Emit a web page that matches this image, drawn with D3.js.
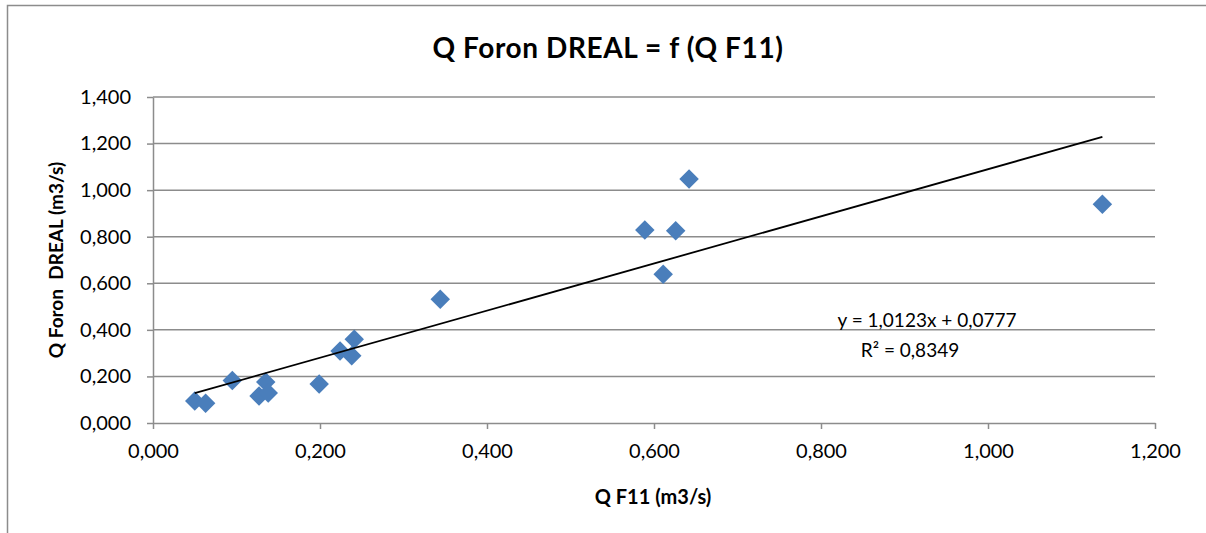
<!DOCTYPE html>
<html>
<head>
<meta charset="utf-8">
<script src="https://cdn.jsdelivr.net/npm/d3@7"></script>
<style>
body { margin: 0; background: #fff; }
svg text { font-family: Lato, "Open Sans", sans-serif; fill: #000; }
.grid line { stroke: #8c8c8c; stroke-width: 1.5; }
.axis path, .axis line { stroke: #8c8c8c; stroke-width: 1.5; }
.axis text { font-size: 20px; font-family: Lato, sans-serif; }
</style>
</head>
<body>
<div class="container"></div>
<script>
var WIDTH = 1206,
	HEIGHT = 533,
	LEFT = 153,
	RIGHT = 1155,
	TOP = 97,
	BOTTOM = 423;

// Q F11 (m3/s)
var qF11 = [0.050, 0.063, 0.095, 0.127, 0.135, 0.138, 0.199, 0.224, 0.238, 0.241, 0.344, 0.589, 0.611, 0.626, 0.642, 1.137];
// Q Foron DREAL (m3/s)
var qForon = [0.095, 0.085, 0.182, 0.116, 0.176, 0.129, 0.167, 0.309, 0.289, 0.360, 0.531, 0.829, 0.639, 0.826, 1.048, 0.939];

var xTicks = [0, 0.2, 0.4, 0.6, 0.8, 1.0, 1.2];
var yTicks = [0, 0.2, 0.4, 0.6, 0.8, 1.0, 1.2, 1.4];

// trendline as given by the spreadsheet
var slope = 1.0123,
	intercept = 0.0777;
var eqLabel = 'y = 1,0123x + 0,0777';
var r2Label = 'R² = 0,8349';

function fmt(d) {
	return d3.format('.3f')(d).replace('.', ',');
}

function draw() {
	var svg = d3.select('.container').append('svg')
		.attr('width', WIDTH)
		.attr('height', HEIGHT);

	// chart frame
	svg.append('rect')
		.attr('x', 7.5).attr('y', 5.5)
		.attr('width', 1210).attr('height', 540)
		.attr('fill', 'none')
		.attr('stroke', '#8c8c8c')
		.attr('stroke-width', 1.5);

	var x = d3.scaleLinear().domain([0, 1.2]).range([LEFT, RIGHT]);
	var y = d3.scaleLinear().domain([0, 1.4]).range([BOTTOM, TOP]);

	// horizontal gridlines
	svg.append('g').attr('class', 'grid')
		.selectAll('line')
		.data(yTicks.slice(1)).enter()
		.append('line')
		.attr('x1', LEFT).attr('x2', RIGHT)
		.attr('y1', function(d) { return y(d); })
		.attr('y2', function(d) { return y(d); });

	var xAxis = d3.axisBottom(x)
		.tickValues(xTicks)
		.tickSize(6)
		.tickSizeOuter(0)
		.tickPadding(15)
		.tickFormat(fmt);

	var yAxis = d3.axisLeft(y)
		.tickValues(yTicks)
		.tickSize(6)
		.tickSizeOuter(0)
		.tickPadding(16)
		.tickFormat(fmt);

	svg.append('g').attr('class', 'axis')
		.attr('transform', 'translate(0,' + BOTTOM + ')')
		.call(xAxis);

	svg.append('g').attr('class', 'axis')
		.attr('transform', 'translate(' + LEFT + ',0)')
		.call(yAxis);

	// points
	var diamond = d3.symbol().type(d3.symbolSquare).size(190);
	svg.append('g').selectAll('path')
		.data(qF11).enter()
		.append('path')
		.attr('d', diamond)
		.attr('fill', '#4a7ebb')
		.attr('transform', function(d, i) {
			return 'translate(' + x(d) + ',' + y(qForon[i]) + ') rotate(45)';
		});

	// linear trendline
	var xmin = d3.min(qF11), xmax = d3.max(qF11);
	svg.append('line')
		.attr('x1', x(xmin)).attr('y1', y(slope * xmin + intercept))
		.attr('x2', x(xmax)).attr('y2', y(slope * xmax + intercept))
		.attr('stroke', '#000')
		.attr('stroke-width', 1.8);

	svg.append('text')
		.attr('x', 927).attr('y', 327)
		.attr('text-anchor', 'middle')
		.attr('font-size', 19)
		.text(eqLabel);
	svg.append('text')
		.attr('x', 910).attr('y', 357)
		.attr('text-anchor', 'middle')
		.attr('font-size', 19)
		.text(r2Label);

	// titles
	svg.append('text')
		.attr('x', 608).attr('y', 58)
		.attr('text-anchor', 'middle')
		.attr('font-size', 28)
		.attr('font-weight', 'bold')
		.attr('letter-spacing', 0.6)
		.text('Q Foron DREAL = f (Q F11)');

	svg.append('text')
		.attr('x', 653).attr('y', 504)
		.attr('text-anchor', 'middle')
		.attr('font-size', 20)
		.attr('font-weight', 'bold')
		.text('Q F11 (m3/s)');

	svg.append('text')
		.attr('transform', 'translate(63,' + ((TOP + BOTTOM) / 2) + ') rotate(-90)')
		.attr('text-anchor', 'middle')
		.attr('font-size', 19)
		.attr('font-weight', 'bold')
		.style('white-space', 'pre')
		.text('Q Foron  DREAL (m3/s)');
}

window.onload = function() {
	draw();
};
</script>
</body>
</html>
